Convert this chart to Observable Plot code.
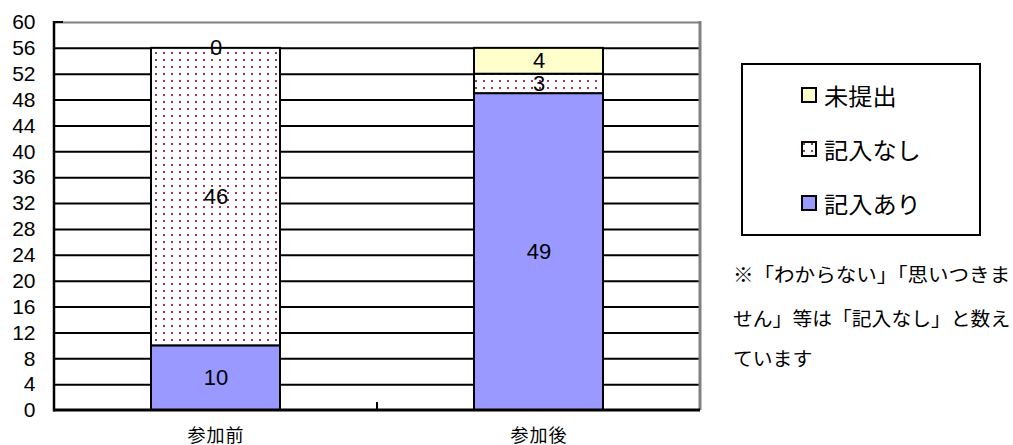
<!DOCTYPE html>
<html>
<head>
<meta charset="utf-8">
<script src="https://cdn.jsdelivr.net/npm/d3@7"></script>
<script src="https://cdn.jsdelivr.net/npm/@observablehq/plot@0.6"></script>
<style>
  html, body { margin: 0; padding: 0; background: white; }
  #chart svg { display: block; }
</style>
</head>
<body>
<div id="chart"></div>
<script>
// ---- data ----
const categories = ["参加前", "参加後"];
const seriesNames = ["記入あり", "記入なし", "未提出"];
const kinyuAri = [10, 49];
const kinyuNashi = [46, 3];
const miteishutsu = [0, 4];
const yTicks = [0, 4, 8, 12, 16, 20, 24, 28, 32, 36, 40, 44, 48, 52, 56, 60];
const legendOrder = ["未提出", "記入なし", "記入あり"];
const noteLines = ["※「わからない」「思いつきま", "せん」等は「記入なし」と数え", "ています"];
const seriesColors = ["#9999FF", "url(#dots)", "#FFFFCC"];

const rows = categories.flatMap((c, i) => [
  {cat: c, series: seriesNames[0], value: kinyuAri[i]},
  {cat: c, series: seriesNames[1], value: kinyuNashi[i]},
  {cat: c, series: seriesNames[2], value: miteishutsu[i]}
]);

const FONT = "'Liberation Sans', 'Noto Sans CJK JP', sans-serif";
const CJK = "'Noto Sans CJK JP', sans-serif";

const plot = Plot.plot({
  width: 1013,
  height: 445,
  marginTop: 22,
  marginBottom: 35,
  marginLeft: 54,
  marginRight: 313,
  style: {fontFamily: FONT, background: "white", color: "black"},
  x: {domain: categories, paddingInner: 0.6, paddingOuter: 0.3, label: null},
  y: {domain: [0, 60], label: null},
  color: {domain: seriesNames, range: seriesColors},
  marks: [
    Plot.ruleY(yTicks.filter(d => d > 0 && d < 60), {stroke: "black", strokeWidth: 2}),
    Plot.ruleY([60], {stroke: "#808080", strokeWidth: 2}),
    Plot.barY(rows, {x: "cat", y: "value", z: "series", fill: "series", order: seriesNames, stroke: "black", strokeWidth: 2}),
    Plot.text(rows, Plot.stackY({x: "cat", y: "value", z: "series", order: seriesNames, text: d => String(d.value), fontSize: 22, fill: "black"})),
    Plot.axisY({ticks: yTicks, tickSize: 0, tickPadding: 19, fontSize: 21, fill: "black"}),
    Plot.axisX({tickSize: 0, tickPadding: 19, fontSize: 18, fill: "black"})
  ]
});

document.getElementById("chart").appendChild(plot);

const svg = d3.select(plot);
// pattern for 記入なし
const defs = svg.insert("defs", ":first-child");
const pat = defs.append("pattern").attr("id", "dots").attr("patternUnits", "userSpaceOnUse")
  .attr("width", 8).attr("height", 7);
pat.append("rect").attr("width", 8).attr("height", 7).attr("fill", "white");
pat.append("rect").attr("x", 3).attr("y", 3).attr("width", 2).attr("height", 2).attr("fill", "#993366");

const xs = plot.scale("x"), ys = plot.scale("y");
const [x0, x1] = xs.range;
const y0 = ys.apply(0), yTop = ys.apply(60);

// frame: right gray, left and bottom black
svg.append("line").attr("x1", x1).attr("x2", x1).attr("y1", yTop - 1).attr("y2", y0)
  .attr("stroke", "#808080").attr("stroke-width", 3);
svg.append("line").attr("x1", x0).attr("x2", x0).attr("y1", yTop - 1).attr("y2", y0 + 1.5)
  .attr("stroke", "black").attr("stroke-width", 2.5);
svg.append("line").attr("x1", x0).attr("x2", x1).attr("y1", y0).attr("y2", y0)
  .attr("stroke", "black").attr("stroke-width", 3);
// inward tick at top
svg.append("line").attr("x1", x0).attr("x2", x0 + 9).attr("y1", yTop).attr("y2", yTop)
  .attr("stroke", "black").attr("stroke-width", 2);
// category boundary tick
const bx = (xs.apply(categories[0]) + xs.bandwidth + xs.apply(categories[1])) / 2;
svg.append("line").attr("x1", bx).attr("x2", bx).attr("y1", y0).attr("y2", y0 - 8)
  .attr("stroke", "black").attr("stroke-width", 2);

// x-axis label spacing
svg.selectAll("g[aria-label='x-axis tick label'] text").attr("letter-spacing", "1px");

// legend
const lg = svg.append("g").attr("font-family", CJK).attr("text-anchor", "start");
lg.append("rect").attr("x", 742).attr("y", 64).attr("width", 238).attr("height", 171)
  .attr("fill", "white").attr("stroke", "black").attr("stroke-width", 2);
const colorOf = s => seriesColors[seriesNames.indexOf(s)];
legendOrder.forEach((s, i) => {
  const cy = 95 + i * 54;
  lg.append("rect").attr("x", 802).attr("y", cy - 7).attr("width", 14).attr("height", 14)
    .attr("fill", colorOf(s)).attr("stroke", "black").attr("stroke-width", 2);
  lg.append("text").attr("x", 824).attr("y", cy).attr("dominant-baseline", "central")
    .attr("text-anchor", "start")
    .attr("textLength", s.length * 24.2).attr("lengthAdjust", "spacingAndGlyphs")
    .attr("font-size", 23).attr("fill", "black").text(s);
});

// note
const ng = svg.append("g").attr("font-family", CJK).attr("text-anchor", "start");
const noteY = [273, 317, 357];
noteLines.forEach((t, i) => {
  ng.append("text").attr("x", 733).attr("y", noteY[i]).attr("dominant-baseline", "central")
    .attr("text-anchor", "start")
    .attr("textLength", t.length * 19.8).attr("lengthAdjust", "spacingAndGlyphs")
    .attr("font-size", 19).attr("fill", "black").text(t);
});
</script>
</body>
</html>
